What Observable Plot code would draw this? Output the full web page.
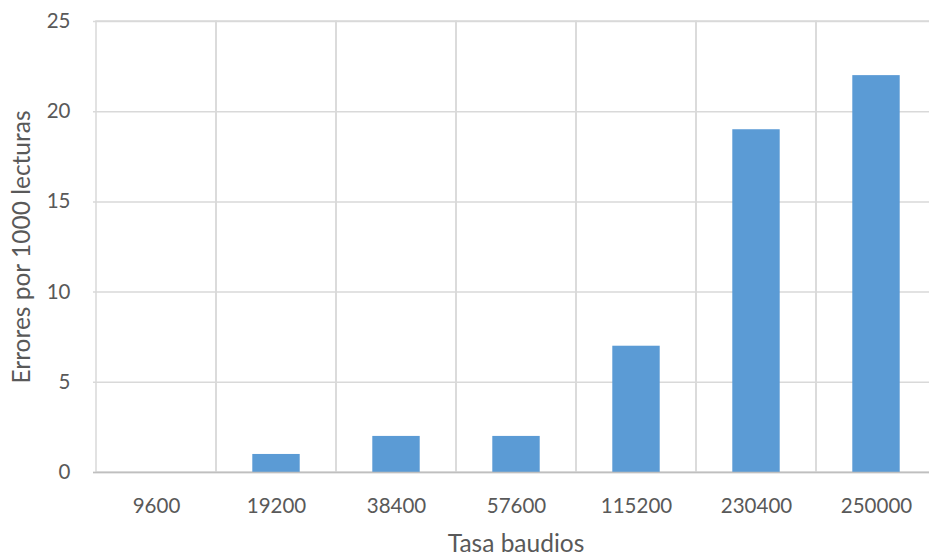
<!DOCTYPE html>
<html>
<head>
<meta charset="utf-8">
<script src="https://cdn.jsdelivr.net/npm/d3@7"></script>
<script src="https://cdn.jsdelivr.net/npm/@observablehq/plot@0.6"></script>
<style>
  html, body { margin: 0; padding: 0; background: #fff; }
</style>
</head>
<body>
<div id="chart"></div>
<script>
// Errores de lectura según la tasa de baudios
const categories = ["9600", "19200", "38400", "57600", "115200", "230400", "250000"];
const errors = [0, 1, 2, 2, 7, 19, 22];
const yTicks = [0, 5, 10, 15, 20, 25];
const xTitle = "Tasa baudios";
const yTitle = "Errores por 1000 lecturas";

const data = categories.map((tasa, i) => ({tasa, errores: errors[i]}));

const chart = Plot.plot({
  width: 929,
  height: 558,
  marginLeft: 93,
  marginRight: -9,
  marginTop: 21,
  marginBottom: 86,
  style: {fontFamily: "Lato, 'Open Sans', sans-serif", color: "#595959", background: "#fff"},
  x: {domain: categories, padding: 0},
  y: {domain: [0, 25]},
  marks: [
    // horizontal gridlines
    Plot.ruleY(yTicks, {stroke: "#d9d9d9", strokeWidth: 1.5}),
    // vertical gridlines: one outlined cell per category
    Plot.barY(categories, {x: d => d, y1: 0, y2: 25, fill: "none", stroke: "#d9d9d9", strokeWidth: 1.5, inset: 0}),
    // bars
    Plot.barY(data, {x: "tasa", y: "errores", fill: "#5b9bd5", insetLeft: 36.3, insetRight: 36.3}),
    // baseline
    Plot.ruleY([0], {stroke: "#bfbfbf", strokeWidth: 1.5}),
    Plot.axisY({ticks: yTicks, tickSize: 0, tickPadding: 23, fontSize: 20.5, label: null}),
    Plot.axisX({tickSize: 0, tickPadding: 26, fontSize: 20.5, label: null}),
    // axis titles
    Plot.text([xTitle], {frameAnchor: "bottom", dy: 79, fontSize: 24.5, fill: "#595959"}),
    Plot.text([yTitle], {frameAnchor: "left", textAnchor: "middle", dx: -71, rotate: -90, fontSize: 24.5, fill: "#595959"})
  ]
});

document.getElementById("chart").appendChild(chart);
</script>
</body>
</html>
